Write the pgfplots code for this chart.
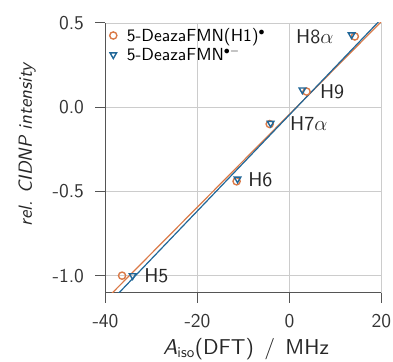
\documentclass[border=0pt]{standalone}
\usepackage{fontspec}
\setsansfont{lmsans10-regular}[Extension=.otf, ItalicFont=lmsans10-oblique, BoldFont=lmsans10-bold]
\usepackage{pgfplots}
\pgfplotsset{compat=1.18}
\renewcommand{\familydefault}{\sfdefault}
\definecolor{cor}{RGB}{218,122,72}
\definecolor{cbl}{RGB}{33,103,152}
\definecolor{axgray}{RGB}{85,85,85}
\begin{document}
\sffamily
\begin{tikzpicture}
\begin{axis}[
  name=ax,
  scale only axis, width=276pt, height=269.5pt,
  xmin=-40, xmax=20, ymin=-1.1, ymax=0.5,
  xtick={-40,-20,0,20}, ytick={-1,-0.5,0,0.5},
  yticklabel style={xshift=-8pt, /pgf/number format/fixed, /pgf/number format/fixed zerofill, /pgf/number format/precision=1},
  /pgf/number format/assume math mode=true,
  tick label style={font=\sffamily\fontsize{19.5}{21}\selectfont, text=black!80},
  xticklabel style={yshift=-8pt},
  grid=major, grid style={gray!40, line width=0.7pt},
  axis line style={axgray, line width=1.1pt},
  axis x line*=bottom, axis y line*=left,
  separate axis lines,
  every outer x axis line/.append style={-},
  every outer y axis line/.append style={-},
  tick style={axgray, line width=1pt},
  tick align=outside, major tick length=10pt,
  xtick pos=bottom, ytick pos=left,
  xlabel={\textit{A}\textsubscript{iso}(DFT)\hspace{0.15em} / \hspace{0.15em}MHz},
  ylabel={\textit{rel. CIDNP intensity}},
  every axis x label/.style={at={(axis description cs:0.509,0)}, anchor=base, yshift=-62pt,
     font=\sffamily\fontsize{21.5}{23}\selectfont, text=black!85},
  every axis y label/.style={at={(axis description cs:-0.284,0.55)}, anchor=center, rotate=90,
     font=\sffamily\fontsize{19}{21}\selectfont, text=black!85},
  clip=true,
  legend style={draw=none, fill=none, at={(0.0,1.0)}, anchor=north west, xshift=3pt, yshift=-2pt,
    font=\sffamily\fontsize{17.5}{19}\selectfont, row sep=0.5pt, column sep=8pt, inner xsep=1pt, inner ysep=1pt},
  legend cell align=left,
]
\addplot[only marks, mark=o, mark size=3.6pt, cor, line width=1.4pt] coordinates {
 (-36.4,-1.0) (-11.5,-0.44) (-4.3,-0.10) (3.7,0.093) (14.2,0.42)};
\addlegendentry{5-DeazaFMN(H1)$^\bullet$}
\addplot[only marks, mark=triangle, mark options={rotate=180}, mark size=3.8pt, cbl, line width=1.4pt] coordinates {
 (-34.1,-1.0) (-11.3,-0.426) (-4.1,-0.095) (2.8,0.103) (13.5,0.43)};
\addlegendentry{5-DeazaFMN$^{\bullet-}$}
\addplot[cor, line width=1.2pt, forget plot] coordinates {(-40,-1.143) (20,0.509)};
\addplot[cbl, line width=1.2pt, forget plot] coordinates {(-40,-1.1856) (20,0.5256)};
\node[anchor=west, font=\sffamily\fontsize{20}{22}\selectfont, text=black!85, inner sep=0pt] at (axis cs:-31.6,-1.0) {H5};
\node[anchor=west, font=\sffamily\fontsize{20}{22}\selectfont, text=black!85, inner sep=0pt] at (axis cs:-9.0,-0.43) {H6};
\node[anchor=west, font=\sffamily\fontsize{20}{22}\selectfont, text=black!85, inner sep=0pt] at (axis cs:0.1,-0.1) {H7$\alpha$};
\node[anchor=west, font=\sffamily\fontsize{20}{22}\selectfont, text=black!85, inner sep=0pt] at (axis cs:6.6,0.09) {H9};
\node[anchor=west, font=\sffamily\fontsize{20}{22}\selectfont, text=black!85, inner sep=0pt] at (axis cs:1.4,0.42) {H8$\alpha$};
\end{axis}
\pgfresetboundingbox
\path (ax.south west) ++(-105.5pt,-68.5pt) coordinate (bl);
\path (ax.north east) ++(11.5pt,23pt) coordinate (tr);
\path[use as bounding box] (bl) rectangle (tr);
\end{tikzpicture}
\end{document}
